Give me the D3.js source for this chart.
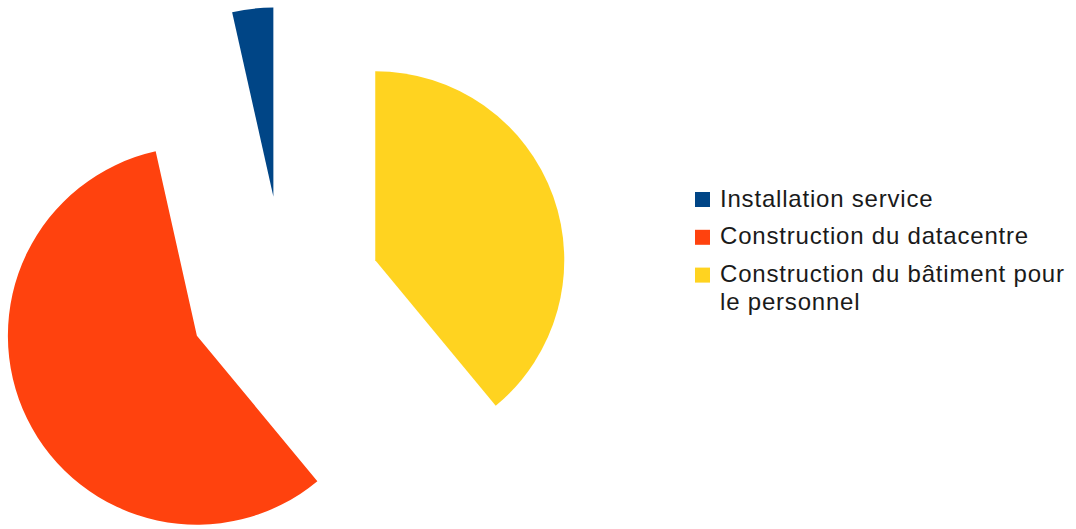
<!DOCTYPE html>
<html>
<head>
<meta charset="utf-8">
<script src="https://cdn.jsdelivr.net/npm/d3@7"></script>
<style>
  html, body { margin: 0; padding: 0; background: #fff; }
  svg { display: block; }
  text { font-family: "Liberation Sans", Arial, sans-serif; }
</style>
</head>
<body>
<svg id="chart" width="1076" height="529"></svg>
<script>
// Data
const categories = ["Installation service", "Construction du datacentre", "Construction du bâtiment pour le personnel"];
const values = [3.5, 57.5, 39.0];
const colors = ["#004586", "#ff420e", "#ffd320"];
const legendLines = [["Installation service"], ["Construction du datacentre"], ["Construction du bâtiment pour", "le personnel"]];

const svg = d3.select("#chart");
const cx = 284, cy = 293, radius = 189, explode = 97;

const pie = d3.pie().sort(null).value(d => d.value).startAngle(0).endAngle(-2 * Math.PI);
const arc = d3.arc().innerRadius(0).outerRadius(radius);

const data = categories.map((c, i) => ({ name: c, value: values[i], color: colors[i] }));
const arcs = pie(data);

const g = svg.append("g").attr("transform", `translate(${cx},${cy})`);
g.selectAll("path").data(arcs).enter().append("path")
  .attr("d", arc)
  .attr("fill", d => d.data.color)
  .attr("transform", d => {
    const mid = (d.startAngle + d.endAngle) / 2;
    return `translate(${explode * Math.sin(mid)},${-explode * Math.cos(mid)})`;
  });

// Legend
const legend = svg.append("g").attr("transform", "translate(695,192)");
const rowY = d3.scaleLinear().domain([0, 1]).range([0, 37.8]);
const items = legend.selectAll("g").data(data).enter().append("g")
  .attr("transform", (d, i) => `translate(0,${rowY(i)})`);
items.append("rect").attr("width", 15).attr("height", 15).attr("fill", d => d.color);
items.each(function (d, i) {
  const t = d3.select(this).append("text")
    .attr("x", 25).attr("y", 14.6)
    .attr("font-size", "24px")
    .attr("letter-spacing", "0.8px")
    .attr("fill", "#1a1a1a");
  legendLines[i].forEach((line, j) => {
    t.append("tspan").attr("x", 25).attr("dy", j === 0 ? 0 : 27.6).text(line);
  });
});
</script>
</body>
</html>
